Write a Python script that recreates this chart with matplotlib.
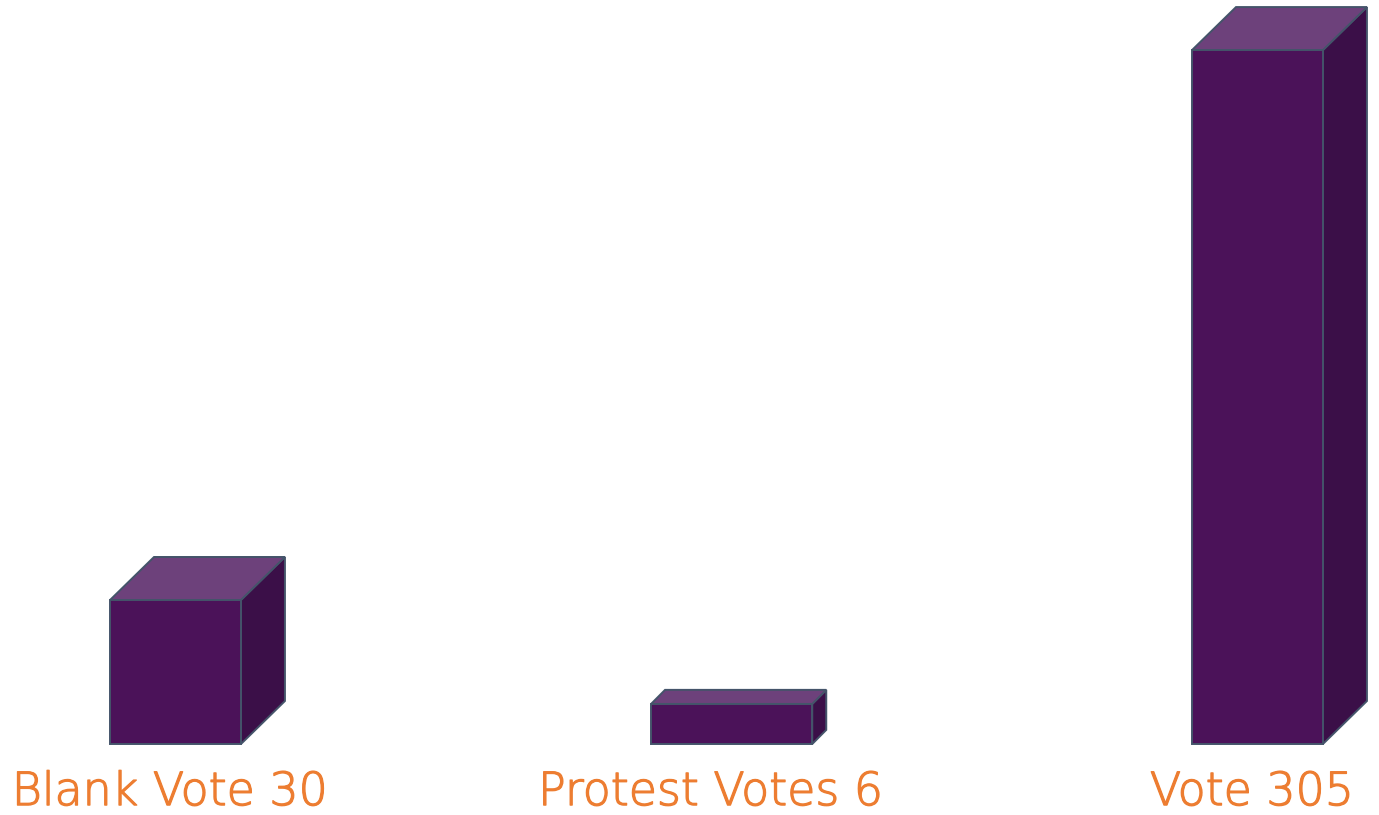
import matplotlib as mpl
mpl.use('Agg')  # headless
import matplotlib.pyplot as plt
import matplotlib.patheffects as pe
from matplotlib.patches import Polygon

# data
categories = ['Blank Vote', 'Protest Votes', 'Vote']
values = [30, 6, 305]
# drawn bar heights in the source are not proportional to the values,
# so keep them apart (same units as the tallest bar = 305)
bar_heights = [63.3, 17.6, 305]

FRONT = '#4b1259'
TOP = '#6d417b'
SIDE = '#3b0f48'
EDGE = '#44546a'
LABEL = '#ed7d31'

# per-bar geometry (width in category units, depth as (dx, dy))
widths = [0.242, 0.298, 0.242]
depths = [(0.0813, 18.9), (0.0259, 6.2), (0.0813, 18.9)]


def draw_box(ax, left, width, height, dx, dy):
    """ draw one pseudo-3d bar: front, top and right side """
    right = left + width
    front = [(left, 0), (right, 0), (right, height), (left, height)]
    top = [(left, height), (right, height), (right + dx, height + dy),
           (left + dx, height + dy)]
    side = [(right, 0), (right + dx, dy), (right + dx, height + dy),
            (right, height)]
    for pts, col in ((side, SIDE), (top, TOP), (front, FRONT)):
        ax.add_patch(Polygon(pts, closed=True, facecolor=col,
                             edgecolor=EDGE, linewidth=1.4,
                             joinstyle='miter'))


fig = plt.figure(figsize=(13.79, 8.15), dpi=100)
ax = fig.add_axes([0, 0, 1, 1])
ax.set_xlim(-0.3244, 2.2246)
ax.set_ylim(-31.2, 327.0)
ax.axis('off')

for i, (cat, val, h) in enumerate(zip(categories, values, bar_heights)):
    left = i - 0.121
    dx, dy = depths[i]
    draw_box(ax, left, widths[i], h, dx, dy)
    t = ax.text(i - 0.01, -30.8, '%s %d' % (cat, val), color=LABEL,
                fontsize=33, family=['DejaVu Sans'],
                fontweight='light', ha='center', va='bottom')
    # thicken the extra-light strokes a little
    t.set_path_effects([pe.withStroke(linewidth=0.9, foreground=LABEL)])

plt.savefig('out.png', dpi=100)
